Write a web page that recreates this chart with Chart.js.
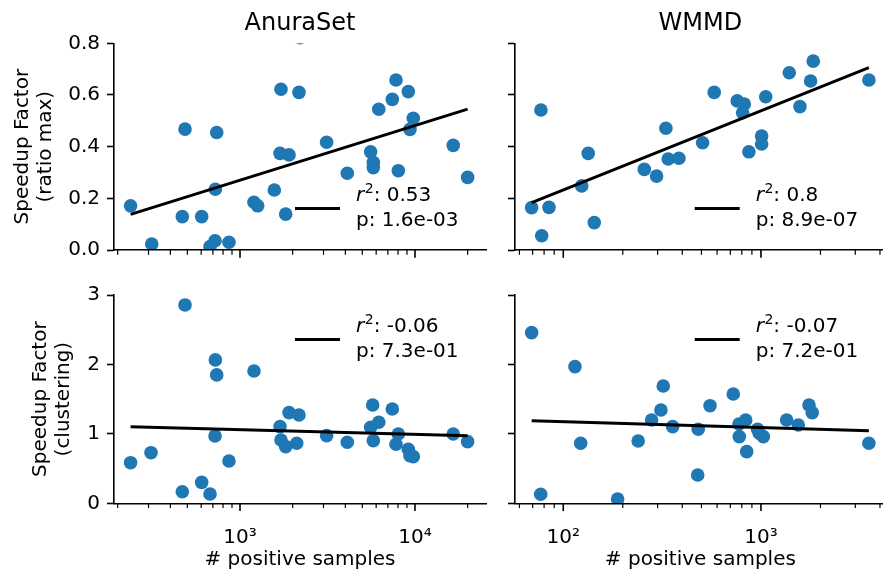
<!DOCTYPE html>
<html><head><meta charset="utf-8">
<script src="https://cdn.jsdelivr.net/npm/chart.js@4"></script>
<style>
html,body{margin:0;padding:0;background:#fff;width:883px;height:571px;overflow:hidden;position:relative;}
canvas{position:absolute;left:0;top:0;}
</style></head><body>
<canvas id="c0" width="890" height="571"></canvas>
<canvas id="c1" width="890" height="571"></canvas>
<canvas id="c2" width="890" height="571"></canvas>
<canvas id="c3" width="890" height="571"></canvas>
<script>
const FONT = "'DejaVu Sans', 'Noto Sans', sans-serif";

// ---- panel titles / labels ----
const datasetTitles = ['AnuraSet', 'WMMD'];
const yTitleRatio = ['Speedup Factor', '(ratio max)'];
const yTitleClust = ['Speedup Factor', '(clustering)'];
const xTitle = '# positive samples';

// ---- tick values & labels ----
const yTicksRatio = [0, 0.2, 0.4, 0.6, 0.8];
const yTickLabelsRatio = ['0.0', '0.2', '0.4', '0.6', '0.8'];
const yTicksClust = [0, 1, 2, 3];
const yTickLabelsClust = ['0', '1', '2', '3'];
const xTicksAnura = [1000, 10000];
const xTickLabelsAnura = ['10³', '10⁴'];
const xTicksWmmd = [100, 1000];
const xTickLabelsWmmd = ['10²', '10³'];
const xRangeAnura = [190.5, 25460];
const xRangeWmmd = [57.0, 4276];

// ---- AnuraSet, ratio max ----
const anuraXRatio = [237, 313, 485, 468, 604, 736, 723, 720, 674, 865, 1202, 1262, 1571, 1693, 1906, 1715, 2173, 1824, 3126, 4103, 5580, 5779, 5779, 6209, 7420, 7790, 8030, 9160, 9780, 9360, 16540, 19990, 2200];
const anuraYRatio = [0.171, 0.023, 0.468, 0.129, 0.129, 0.455, 0.235, 0.036, 0.013, 0.030, 0.185, 0.171, 0.232, 0.374, 0.368, 0.622, 0.610, 0.139, 0.417, 0.297, 0.380, 0.339, 0.319, 0.545, 0.583, 0.658, 0.307, 0.613, 0.510, 0.467, 0.405, 0.281, 0.822];
const anuraFitRatioX = [237, 19990];
const anuraFitRatioY = [0.138, 0.545];

// ---- AnuraSet, clustering ----
const anuraXClust = [237, 310, 485, 468, 604, 723, 736, 720, 674, 865, 1202, 1693, 1906, 2173, 1715, 1824, 2109, 3126, 4103, 5730, 6209, 5580, 5779, 7420, 8030, 7790, 9160, 9360, 9780, 16540, 19990];
const anuraYClust = [0.585, 0.729, 2.857, 0.167, 0.302, 2.065, 1.849, 0.970, 0.134, 0.610, 1.906, 1.104, 1.306, 1.272, 0.912, 0.816, 0.864, 0.974, 0.879, 1.416, 1.167, 1.095, 0.902, 1.359, 0.999, 0.850, 0.778, 0.686, 0.672, 0.999, 0.888];
const anuraFitClustX = [237, 19990];
const anuraFitClustY = [1.104, 0.974];

// ---- WMMD, ratio max ----
const wmmdXRatio = [69.2, 77.1, 77.8, 84.7, 124, 133.7, 143.5, 257, 296.6, 330.5, 339.6, 384.7, 506.8, 580.3, 758.6, 823.6, 807.9, 869, 1008, 1008, 1057, 1391, 1575, 1783, 1839, 3515];
const wmmdYRatio = [0.164, 0.542, 0.055, 0.165, 0.248, 0.374, 0.106, 0.312, 0.286, 0.471, 0.352, 0.355, 0.415, 0.610, 0.577, 0.565, 0.531, 0.380, 0.441, 0.410, 0.593, 0.686, 0.555, 0.654, 0.731, 0.658];
const wmmdFitRatioX = [69.2, 3515];
const wmmdFitRatioY = [0.183, 0.706];

// ---- WMMD, clustering ----
const wmmdXClust = [69.2, 76.9, 114.6, 122.5, 188.4, 239.3, 279.8, 311.9, 320.5, 357.6, 481.6, 478.6, 552.6, 724.4, 774.4, 837.5, 777, 847, 962, 980, 1028, 1349, 1545, 1750, 1817, 3515];
const wmmdYClust = [2.458, 0.130, 1.968, 0.864, 0.062, 0.898, 1.200, 1.344, 1.690, 1.104, 1.066, 0.408, 1.406, 1.575, 1.143, 1.200, 0.960, 0.744, 1.066, 1.009, 0.960, 1.200, 1.128, 1.416, 1.306, 0.864];
const wmmdFitClustX = [69.2, 3515];
const wmmdFitClustY = [1.190, 1.046];

// ---- legend texts ----
const r2Labels = ['0.53', '0.8', '-0.06', '-0.07'];
const pLabels = ['1.6e-03', '8.9e-07', '7.3e-01', '7.2e-01'];

const pts = (xs, ys) => xs.map((x, i) => ({x: x, y: ys[i]}));

const decorPlugin = {
  id: 'decor',
  afterDraw(chart, args, o) {
    const ctx = chart.ctx, ca = chart.chartArea, xs = chart.scales.x;
    ctx.save();
    // x tick marks (major + minor)
    ctx.strokeStyle = '#000';
    const e0 = Math.floor(Math.log10(xs.min)), e1 = Math.ceil(Math.log10(xs.max));
    for (let e = e0; e <= e1; e++) {
      for (let k = 1; k <= 9; k++) {
        const v = k * Math.pow(10, e);
        if (v < xs.min || v > xs.max) continue;
        const px = xs.getPixelForValue(v);
        const major = k === 1;
        ctx.lineWidth = major ? 1.6 : 1.2;
        ctx.beginPath();
        ctx.moveTo(px, ca.bottom);
        ctx.lineTo(px, ca.bottom + 0.8 + (major ? 7 : 4));
        ctx.stroke();
      }
    }
    // title
    ctx.fillStyle = '#000';
    if (o.title) {
      ctx.font = '24px ' + FONT;
      ctx.textAlign = 'center';
      ctx.textBaseline = 'alphabetic';
      ctx.fillText(o.title, (ca.left + ca.right) / 2, 30);
    }
    // legend
    if (o.leg) {
      const b1 = o.leg.pos === 'top' ? ca.top + 36.7 : ca.bottom - 49.3;
      const b2 = b1 + 25;
      const hy = b1 + 7.7;
      ctx.lineWidth = 3;
      ctx.lineCap = 'butt';
      ctx.beginPath();
      ctx.moveTo(ca.right - 191, hy);
      ctx.lineTo(ca.right - 146, hy);
      ctx.stroke();
      let x = ca.right - 130;
      ctx.textAlign = 'left';
      ctx.textBaseline = 'alphabetic';
      ctx.font = 'italic 20px ' + FONT;
      ctx.fillText('r', x, b1);
      x += ctx.measureText('r').width + 0.5;
      ctx.font = '14px ' + FONT;
      ctx.fillText('2', x, b1 - 8);
      x += ctx.measureText('2').width;
      ctx.font = '20px ' + FONT;
      ctx.fillText(': ' + o.leg.r2, x, b1);
      ctx.fillText('p: ' + o.leg.p, ca.right - 130, b2);
    }
    ctx.restore();
  }
};

function makePanel(id, c) {
  const W = 890, H = 571;
  const yWidth = c.showY ? 114 : 20;
  const xHeight = c.showX ? 66.7 : 10;
  new Chart(document.getElementById(id), {
    type: 'scatter',
    data: {
      datasets: [
        {data: pts(c.fitX, c.fitY), showLine: true, borderColor: '#000', borderWidth: 3,
         pointRadius: 0, pointHoverRadius: 0, order: 0, clip: 0, borderCapStyle: 'butt'},
        {data: pts(c.xs, c.ys), backgroundColor: '#1f77b4', borderColor: '#1f77b4',
         pointRadius: 6.8, pointBorderWidth: 0, pointHoverRadius: 6.8, order: 1, clip: 0}
      ]
    },
    options: {
      responsive: false, animation: false, devicePixelRatio: 1,
      layout: {autoPadding: false, padding: {
        left: c.area.left - yWidth, right: W - c.area.right,
        top: c.area.top, bottom: H - c.area.bottom - xHeight}},
      plugins: {legend: {display: false}, tooltip: {enabled: false}, title: {display: false},
        decor: {title: c.title, leg: c.leg}},
      scales: {
        x: {
          type: 'logarithmic', position: 'bottom', min: c.xRange[0], max: c.xRange[1],
          grid: {display: false},
          border: {display: true, color: '#000', width: 1.6, z: 1},
          ticks: {autoSkip: false, maxRotation: 0, minRotation: 0, padding: 14, color: '#000',
            font: {family: FONT, size: 20, lineHeight: 1.2},
            callback: (v, i) => c.showX ? c.xTickLabels[i] : ''},
          afterBuildTicks: s => { s.ticks = c.xTicks.map(v => ({value: v})); },
          afterFit: s => { s.height = xHeight; },
          title: {display: c.showX, text: xTitle, color: '#000',
            font: {family: FONT, size: 20, lineHeight: 1.2}, padding: {top: 0, bottom: -2}}
        },
        y: {
          type: 'linear', position: 'left', min: c.yTicks[0], max: c.yTicks[c.yTicks.length - 1],
          grid: {display: true, drawOnChartArea: false, drawTicks: true, tickLength: 7,
            tickWidth: 1.6, tickColor: '#000'},
          border: {display: true, color: '#000', width: 1.6, z: 1},
          ticks: {padding: 7, color: '#000', font: {family: FONT, size: 20, lineHeight: 1.2},
            callback: (v, i) => c.showY ? c.yTickLabels[i] : ''},
          afterBuildTicks: s => { s.ticks = c.yTicks.map(v => ({value: v})); },
          afterFit: s => { s.width = yWidth; },
          title: {display: c.showY, text: c.yTitle, color: '#000',
            font: {family: FONT, size: 20, lineHeight: 1.15},
            padding: {top: c.yTitlePad, bottom: 0}}
        }
      }
    },
    plugins: [decorPlugin]
  });
}

const areaTL = {left: 114, right: 486, top: 43.3, bottom: 250};
const areaTR = {left: 515, right: 885.7, top: 43.3, bottom: 250};
const areaBL = {left: 114, right: 486, top: 295, bottom: 503.3};
const areaBR = {left: 515, right: 885.7, top: 295, bottom: 503.3};

makePanel('c0', {xs: anuraXRatio, ys: anuraYRatio, fitX: anuraFitRatioX, fitY: anuraFitRatioY,
  xRange: xRangeAnura, xTicks: xTicksAnura, xTickLabels: xTickLabelsAnura,
  yTicks: yTicksRatio, yTickLabels: yTickLabelsRatio, yTitle: yTitleRatio, yTitlePad: 11.5,
  showX: false, showY: true, area: areaTL, title: datasetTitles[0],
  leg: {pos: 'bottom', r2: r2Labels[0], p: pLabels[0]}});
makePanel('c1', {xs: wmmdXRatio, ys: wmmdYRatio, fitX: wmmdFitRatioX, fitY: wmmdFitRatioY,
  xRange: xRangeWmmd, xTicks: xTicksWmmd, xTickLabels: xTickLabelsWmmd,
  yTicks: yTicksRatio, yTickLabels: yTickLabelsRatio, yTitle: '', yTitlePad: 0,
  showX: false, showY: false, area: areaTR, title: datasetTitles[1],
  leg: {pos: 'bottom', r2: r2Labels[1], p: pLabels[1]}});
makePanel('c2', {xs: anuraXClust, ys: anuraYClust, fitX: anuraFitClustX, fitY: anuraFitClustY,
  xRange: xRangeAnura, xTicks: xTicksAnura, xTickLabels: xTickLabelsAnura,
  yTicks: yTicksClust, yTickLabels: yTickLabelsClust, yTitle: yTitleClust, yTitlePad: 29.5,
  showX: true, showY: true, area: areaBL, title: null,
  leg: {pos: 'top', r2: r2Labels[2], p: pLabels[2]}});
makePanel('c3', {xs: wmmdXClust, ys: wmmdYClust, fitX: wmmdFitClustX, fitY: wmmdFitClustY,
  xRange: xRangeWmmd, xTicks: xTicksWmmd, xTickLabels: xTickLabelsWmmd,
  yTicks: yTicksClust, yTickLabels: yTickLabelsClust, yTitle: '', yTitlePad: 0,
  showX: true, showY: false, area: areaBR, title: null,
  leg: {pos: 'top', r2: r2Labels[3], p: pLabels[3]}});
</script>
</body></html>
